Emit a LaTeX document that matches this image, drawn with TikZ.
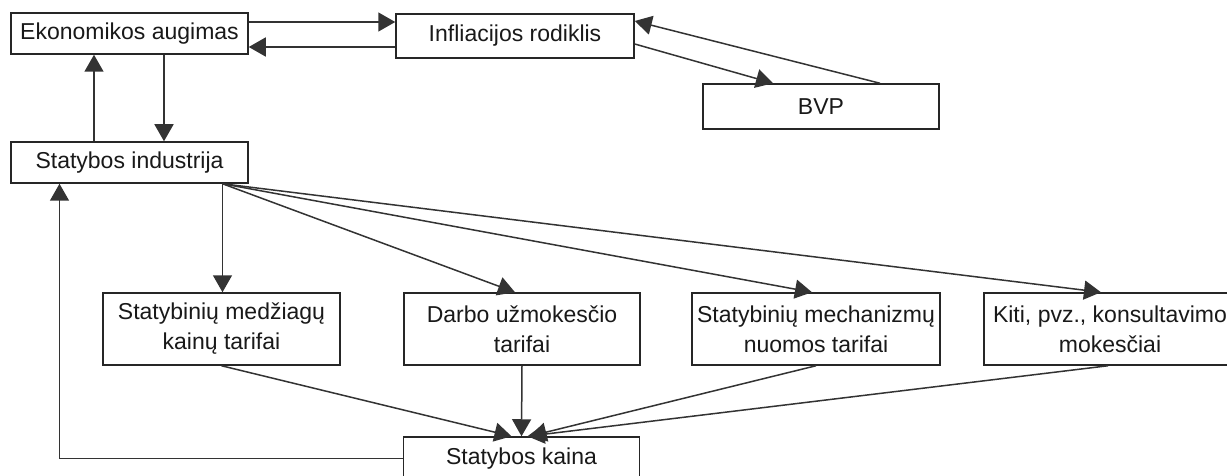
\documentclass[tikz,border=0pt]{standalone}
\usepackage{fontspec}
\setmainfont{Liberation Sans}
\usetikzlibrary{arrows.meta}
\begin{document}
\begin{tikzpicture}[x=0.5pt,y=-0.5pt,
  box/.style={draw=black!85, line width=0.75pt, inner sep=0pt, align=center,
    font=\fontsize{11.5}{15}\selectfont, text=black!90},
  arr/.style={draw=black!80, line width=0.75pt,
    -{Triangle[length=8.5pt,width=9.5pt]}}]
\clip (0,0) rectangle (1227,476);
\fill[white] (0,0) rectangle (1227,476);

% top row
\node[box, minimum width=118.5pt, minimum height=20.5pt] (eko)  at (129.5,33.5) {Ekonomikos augimas};
\node[box, minimum width=119pt,   minimum height=22pt]   (infl) at (515,36)     {Infliacijos rodiklis};
\node[box, minimum width=118pt,   minimum height=22.5pt] (bvp)  at (821,106.5)  {BVP};
\node[box, minimum width=118.5pt, minimum height=20.5pt] (ind)  at (129.5,162.5) {Statybos industrija};

% cost components
\node[box, minimum width=118.5pt, minimum height=36pt] (med)   at (221.5,329) {Statybinių medžiagų\\kainų tarifai};
\node[box, minimum width=118pt,   minimum height=36pt] (darbo) at (522,329)   {Darbo užmokesčio\\tarifai};
\node[box, minimum width=124pt,   minimum height=36pt] (mech)  at (816,329)   {Statybinių mechanizmų\\nuomos tarifai};
\node[box, minimum width=126pt,   minimum height=36pt] (kiti)  at (1110,329)  {Kiti, pvz., konsultavimo\\mokesčiai};

% total cost
\node[box, minimum width=118pt, minimum height=21.5pt] (kaina) at (521.5,458.5) {Statybos kaina};

% economy <-> inflation
\coordinate (e1) at ([yshift=5.75pt]eko.east);
\coordinate (e2) at ([yshift=-6.75pt]eko.east);
\draw[arr] (e1) -- (e1 -| infl.west);
\draw[arr] (e2 -| infl.west) -- (e2);

% economy <-> construction industry
\coordinate (e3) at ([xshift=17.25pt]eko.south);
\coordinate (e4) at ([xshift=-17.75pt]ind.north);
\draw[arr] (e3) -- (e3 |- ind.north);
\draw[arr] (e4) -- (e4 |- eko.south);

% inflation <-> GDP
\draw[arr] ([yshift=-4pt]infl.east) -- ([xshift=-24pt]bvp.north);
\draw[arr] ([xshift=29.5pt]bvp.north) -- ([yshift=7.5pt]infl.east);

% industry fans out to the cost components
\coordinate (f) at ([xshift=46.5pt]ind.south);
\draw[arr] (f) -- (f |- med.north);
\draw[arr] (f) -- ([xshift=-3.5pt]darbo.north);
\draw[arr] (f) -- ([xshift=-2pt]mech.north);
\draw[arr] (f) -- ([xshift=-4.5pt]kiti.north);

% components feed the total cost
\draw[arr] (med.south) -- ([xshift=-5pt]kaina.north);
\draw[arr] (darbo.south) -- (kaina.north);
\draw[arr] (mech.south) -- ([xshift=4pt]kaina.north);
\draw[arr] ([xshift=-1pt]kiti.south) -- ([xshift=3pt]kaina.north);

% total cost back to industry
\coordinate (ku) at ([xshift=-35pt]ind.south);
\draw[arr] (kaina.west) -| (ku);
\end{tikzpicture}
\end{document}
